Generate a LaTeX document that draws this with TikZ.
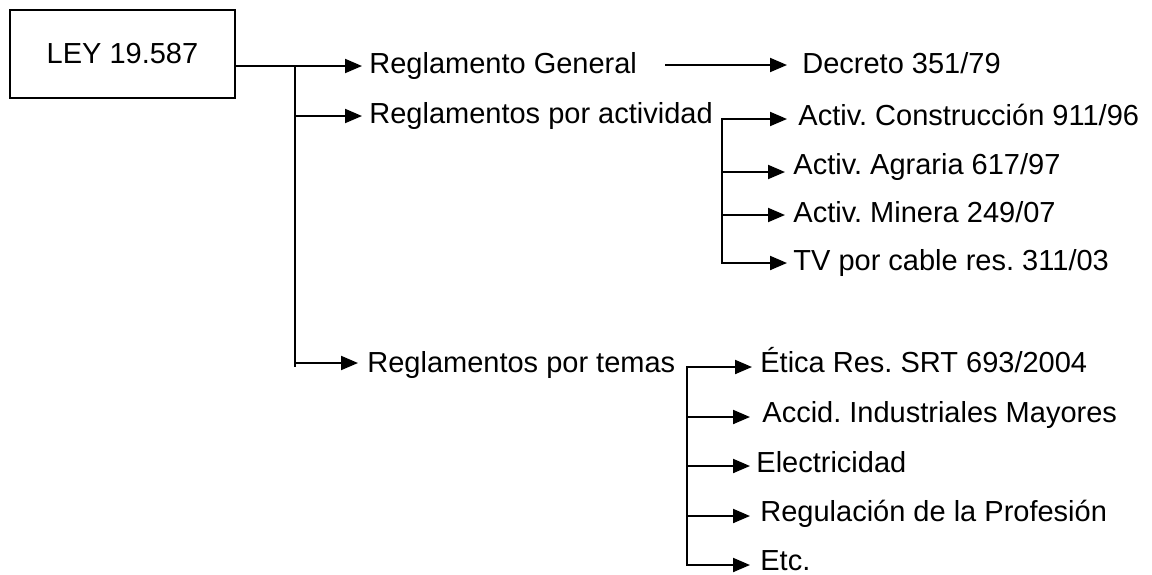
\documentclass[tikz,border=0pt]{standalone}
\usepackage{fontspec}
\setmainfont{Liberation Sans}
\usetikzlibrary{arrows.meta}
\frenchspacing
\begin{document}
\begin{tikzpicture}[x=0.5pt,y=-0.5pt,
  lbl/.style={anchor=base west,inner sep=0pt,font=\fontsize{14.5pt}{17pt}\selectfont},
  ln/.style={line width=1pt,line cap=rect},
  arr/.style={line width=1pt,-{Triangle[length=8.5pt,width=7pt]}}]
\useasboundingbox (0,0) rectangle (1152,574);
% root
\node[draw,line width=1pt,minimum width=112.5pt,minimum height=44pt,inner sep=0pt,
      font=\fontsize{14.5pt}{17pt}\selectfont] (ley) at (122.5,54) {LEY 19.587};
% level 1 labels
\node[lbl] (rg) at (369,73) {Reglamento General};
\node[lbl] (ra) at (369,123) {Reglamentos por actividad};
\node[lbl] (rt) at (367,372) {Reglamentos por temas};
% level 1 connectors
\coordinate (j0) at ([yshift=-6pt]ley.east);
\coordinate (t1) at (295,66);
\coordinate (t2) at (295,116);
\coordinate (t3) at (295,363);
\coordinate (t4) at (295,366);
\coordinate (aRG) at (362,66);
\coordinate (aRA) at (362,116);
\coordinate (aRT) at (358,363);
\draw[ln] (t1) -- (t4);
\draw[arr] (j0) -- (aRG);
\draw[arr] (t2) -- (aRA);
\draw[arr] (t3) -- (aRT);
% Reglamento General -> Decreto
\node[lbl] (dec) at (802,73) {Decreto 351/79};
\coordinate (d0) at (665,65);
\coordinate (d1) at (787,65);
\draw[arr] (d0) -- (d1);
% por actividad
\node[lbl] (c1) at (798,125) {Activ. Construcción 911/96};
\node[lbl] (c2) at (793,174) {Activ. Agraria 617/97};
\node[lbl] (c3) at (793,222) {Activ. Minera 249/07};
\node[lbl] (c4) at (793,270) {TV por cable res. 311/03};
\coordinate (a1) at (722,119); \coordinate (a1t) at (787,119);
\coordinate (a2) at (722,172); \coordinate (a2t) at (785,172);
\coordinate (a3) at (722,215); \coordinate (a3t) at (785,215);
\coordinate (a4) at (722,263); \coordinate (a4t) at (787,263);
\draw[ln] (a1) -- (a4);
\draw[arr] (a1) -- (a1t);
\draw[arr] (a2) -- (a2t);
\draw[arr] (a3) -- (a3t);
\draw[arr] (a4) -- (a4t);
% por temas
\node[lbl] (e1) at (760,372) {Ética Res. SRT 693/2004};
\node[lbl] (e2) at (762,422) {Accid. Industriales Mayores};
\node[lbl] (e3) at (756,472) {Electricidad};
\node[lbl] (e4) at (760,521) {Regulación de la Profesión};
\node[lbl] (e5) at (760,570) {Etc.};
\coordinate (b1) at (687,367); \coordinate (b1t) at (752,367);
\coordinate (b2) at (687,417); \coordinate (b2t) at (750,417);
\coordinate (b3) at (687,466); \coordinate (b3t) at (750,466);
\coordinate (b4) at (687,516); \coordinate (b4t) at (750,516);
\coordinate (b5) at (687,565); \coordinate (b5t) at (750,565);
\draw[ln] (b1) -- (b5);
\draw[arr] (b1) -- (b1t);
\draw[arr] (b2) -- (b2t);
\draw[arr] (b3) -- (b3t);
\draw[arr] (b4) -- (b4t);
\draw[arr] (b5) -- (b5t);
\end{tikzpicture}
\end{document}
